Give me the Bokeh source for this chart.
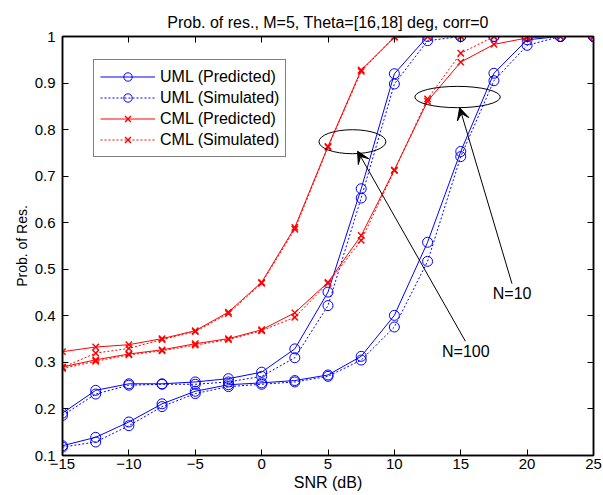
from bokeh.plotting import figure
from bokeh.models import (Range1d, LinearAxis, FixedTicker, Legend, LegendItem,
                          Label, Arrow, VeeHead, CustomJSTickFormatter)
from bokeh.embed import file_html
from bokeh.resources import INLINE

# ---------------- data ----------------
snr = [-15, -12.5, -10, -7.5, -5, -2.5, 0, 2.5, 5, 7.5, 10, 12.5, 15, 17.5, 20, 22.5, 25]

uml_pred_n10 = [0.121, 0.139, 0.172, 0.211, 0.238, 0.252, 0.256, 0.261, 0.273, 0.313, 0.401,
                0.558, 0.753, 0.921, 0.993, 1.0, 1.0]
uml_sim_n10 = [0.118, 0.129, 0.164, 0.205, 0.233, 0.248, 0.253, 0.258, 0.270, 0.305, 0.376,
               0.517, 0.742, 0.905, 0.981, 1.0, 1.0]
uml_pred_n100 = [0.191, 0.240, 0.254, 0.254, 0.258, 0.265, 0.279, 0.329, 0.451, 0.673, 0.920,
                 1.0, 1.0, 1.0, 1.0, 1.0, 1.0]
uml_sim_n100 = [0.186, 0.232, 0.251, 0.253, 0.253, 0.258, 0.270, 0.310, 0.422, 0.653, 0.898,
                0.991, 1.0, 1.0, 1.0, 1.0, 1.0]
cml_pred_n10 = [0.290, 0.3055, 0.318, 0.327, 0.340, 0.351, 0.370, 0.4065, 0.472, 0.5725, 0.7136,
                0.861, 0.945, 0.983, 0.997, 1.0, 1.0]
cml_sim_n10 = [0.287, 0.3025, 0.316, 0.325, 0.337, 0.349, 0.368, 0.397, 0.470, 0.562, 0.712,
               0.866, 0.964, 1.0, 1.0, 1.0, 1.0]
cml_pred_n100 = [0.323, 0.333, 0.338, 0.351, 0.368, 0.408, 0.472, 0.590, 0.764, 0.928, 0.998,
                 1.0, 1.0, 1.0, 1.0, 1.0, 1.0]
cml_sim_n100 = [0.289, 0.320, 0.330, 0.349, 0.366, 0.405, 0.470, 0.586, 0.762, 0.925, 1.0,
                1.0, 1.0, 1.0, 1.0, 1.0, 1.0]

x_ticks = [-15, -10, -5, 0, 5, 10, 15, 20, 25]
x_tick_labels = ["\u221215", "\u221210", "\u22125", "0", "5", "10", "15", "20", "25"]
y_ticks = [0.1, 0.2, 0.3, 0.4, 0.5, 0.6, 0.7, 0.8, 0.9, 1.0]
y_tick_labels = ["0.1", "0.2", "0.3", "0.4", "0.5", "0.6", "0.7", "0.8", "0.9", "1"]

title_text = "Prob. of res., M=5, Theta=[16,18] deg, corr=0"
x_label_text = "SNR (dB)"
y_label_text = "Prob. of Res."

# annotation geometry (data units)
ell_x = [6.84, 14.76]
ell_y = [0.774, 0.870]
ell_w = [5.04, 6.44]
ell_h = [0.0515, 0.0458]
ann_text = ["N=100", "N=10"]
ann_tx = [15.38, 18.87]
ann_ty = [0.323, 0.448]
arr_x0 = [15.35, 18.86]
arr_y0 = [0.3455, 0.469]
arr_x1 = [7.23, 14.92]
arr_y1 = [0.7536, 0.8468]

FONT = "Liberation Sans"
BLUE = "#0000ff"
RED = "#ff0000"
DOT = "2 2"

p = figure(width=603, height=495, output_backend="svg", toolbar_location=None,
           x_range=Range1d(-15, 25), y_range=Range1d(0.1, 1.0),
           min_border_left=62, min_border_right=10, min_border_top=36, min_border_bottom=40)
p.grid.visible = False
p.outline_line_color = "black"
p.outline_line_width = 1.5
p.background_fill_color = "white"
p.border_fill_color = "white"

p.title.text = title_text
p.title.align = "center"
p.title.vertical_align = "top"
p.title.text_font = FONT
p.title.text_font_size = "16px"
p.title.text_font_style = "normal"
p.title.text_color = "black"
p.title.standoff = 8

# bottom / left axes
xa = p.xaxis[0]
xa.ticker = FixedTicker(ticks=x_ticks)
xa.major_label_overrides = {t: l for t, l in zip(x_ticks, x_tick_labels)}
xa.axis_label = x_label_text
xa.axis_label_text_font_size = "16px"
xa.axis_label_standoff = 2
ya = p.yaxis[0]
ya.ticker = FixedTicker(ticks=y_ticks)
ya.major_label_overrides = {t: l for t, l in zip(y_ticks, y_tick_labels)}
ya.axis_label = y_label_text
ya.axis_label_text_font_size = "14px"
ya.axis_label_standoff = 2
for ax in (xa, ya):
    ax.axis_label_text_font = FONT
    ax.axis_label_text_font_style = "normal"
    ax.axis_label_text_color = "black"
    ax.major_tick_in = 6
    ax.major_tick_out = 0
    ax.minor_tick_line_color = None
    ax.axis_line_color = "black"
    ax.axis_line_width = 1.5
    ax.major_tick_line_color = "black"
    ax.major_label_text_font = FONT
    ax.major_label_text_font_size = "15px"
    ax.major_label_text_color = "black"
xa.major_label_standoff = 3
ya.major_label_standoff = 7

# top / right axes (ticks only)
for loc, ticks in (("above", x_ticks), ("right", y_ticks)):
    ax = LinearAxis(ticker=FixedTicker(ticks=ticks),
                    formatter=CustomJSTickFormatter(code="return '';"),
                    major_label_standoff=0, major_tick_in=6, major_tick_out=0,
                    minor_tick_line_color=None, axis_line_color="black", axis_line_width=1.5,
                    major_tick_line_color="black")
    p.add_layout(ax, loc)

series = [
    ("UML (Predicted)", uml_pred_n10, uml_pred_n100, BLUE, "solid", "circle"),
    ("UML (Simulated)", uml_sim_n10, uml_sim_n100, BLUE, DOT, "circle"),
    ("CML (Predicted)", cml_pred_n10, cml_pred_n100, RED, "solid", "x"),
    ("CML (Simulated)", cml_sim_n10, cml_sim_n100, RED, DOT, "x"),
]

items = []
for label, v10, v100, color, dash, marker in series:
    rs = []
    for vals in (v100, v10):
        ln = p.line(snr, vals, line_color=color, line_width=1, line_dash=dash)
        if marker == "circle":
            sc = p.scatter(snr, vals, marker="circle", size=10, fill_color=None,
                           line_color=color, line_width=1)
        else:
            sc = p.scatter(snr, vals, marker="x", size=9, line_color=color, line_width=1.4)
        rs.extend([ln, sc])
    items.append(LegendItem(label=label, renderers=rs[:2]))

legend = Legend(items=items, location=(31, 298), orientation="vertical",
                glyph_width=55, glyph_height=21, label_height=21, spacing=0, padding=6,
                margin=0, label_standoff=5, label_text_font=FONT, label_text_font_size="16px",
                label_text_color="black", border_line_color="black", border_line_width=1,
                background_fill_color="white", background_fill_alpha=1.0)
p.add_layout(legend, "center")

# ellipses
p.ellipse(ell_x, ell_y, width=ell_w, height=ell_h, fill_color=None, line_color="black",
          line_width=1)

# arrows + labels
for x0, y0, x1, y1 in zip(arr_x0, arr_y0, arr_x1, arr_y1):
    p.add_layout(Arrow(end=VeeHead(size=12, fill_color="black", line_color="black"),
                       x_start=x0, y_start=y0, x_end=x1, y_end=y1,
                       line_color="black", line_width=1))
for t, tx, ty in zip(ann_text, ann_tx, ann_ty):
    p.add_layout(Label(x=tx, y=ty, text=t, text_align="center", text_baseline="middle",
                       text_font=FONT, text_font_size="16px", text_color="black"))

open("out.html", "w").write(file_html(p, INLINE))
